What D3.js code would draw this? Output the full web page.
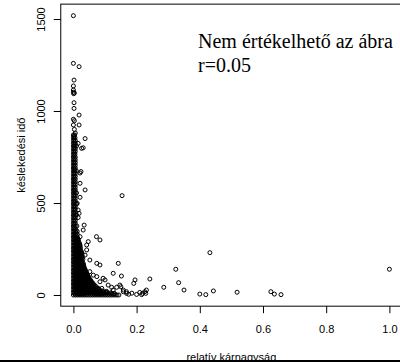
<!DOCTYPE html>
<html><head><meta charset="utf-8">
<script src="https://cdn.jsdelivr.net/npm/d3@7"></script>
<style>body{margin:0;background:#fff}svg{display:block}</style>
</head><body>
<script>
// tick values
const xTicks = [0, 0.2, 0.4, 0.6, 0.8, 1.0];
const yTicks = [0, 500, 1000, 1500];
const xLabel = "relatív kárnagyság";
const yLabel = "késlekedési idő";
const noteLines = ["Nem értékelhető az ábra", "r=0.05"];

// dense overplotted region: [delay, relative damage in thousandths...]
const denseRows = [
 [870,0,4],[855,0,5],[840,0,6],[825,0,6],[810,0,5,10],[795,0,6],[780,0,6],[765,0,5],[750,0,6],
 [735,0,6],[720,0,6],[705,0,6],[690,0,6],[675,0,5,9],[660,0,6],[645,0,6],[630,0,6],
 [615,0,6],[600,0,6],[585,0,6],[570,0,6],[555,0,6,10],[540,0,6],[525,0,6],[510,0,6],
 [495,0,6,10],[480,0,6],[465,0,6],[450,0,6],[435,0,6,10],[420,0,6],[405,0,6],[390,0,6],
 [375,0,6,11],[360,0,6],[345,0,6,12],[330,0,6,12],[315,0,6,12],[300,0,6,12,16],
 [285,0,6,12,18],[270,0,6,12,18,21],[255,0,6,12,18,22],[240,0,6,12,18,24],
 [225,0,6,12,18,24,27],[210,0,6,12,18,24,28],[195,0,6,12,18,24,30],[180,0,6,12,18,24,28],
 [165,0,6,12,18,24,30,32],[150,0,6,12,18,24,30,34],[135,0,6,12,18,24,30,36,38],
 [120,0,6,12,18,24,30,36,42],[105,0,6,12,18,24,30,36,42,46],
 [90,0,6,12,18,24,30,36,42,48,50],[75,0,6,12,18,24,30,36,42,48,54,56],
 [60,0,6,12,18,24,30,36,42,48,54,60,63],[45,0,6,12,18,24,30,36,42,48,54,60,66,72],
 [30,0,6,12,18,24,30,36,42,48,54,60,66,72,78,82],
 [15,0,6,12,18,24,30,36,42,48,54,60,66,72,78,84,90,96,102,104],
 [0,0,6,12,18,24,30,36,42,48,54,60,66,72,78,84,90,96,102,108,114,120,126,132,138,144],
 [862,2],[847,3],[832,3],[817,3],[802,3],[787,3],[772,3],[757,3],[742,3],[727,3],[712,3],
 [697,3],[682,3],[667,3],[652,3],[637,3],[622,3],[607,3],[592,3],[577,3],[562,3],[547,3],
 [532,3],[517,3],[502,3],[487,3],[472,3],[457,3],[442,3],[427,3],[412,3],[397,3],[382,3],[367,3],
 [352,3,9],[337,3,9],[322,3,9],[307,3,9,14],[292,3,9,15],[277,3,9,15,20],[262,3,9,15,21],
 [247,3,9,15,21],[232,3,9,15,21,26],[217,3,9,15,21,27],[202,3,9,15,21,27],[187,3,9,15,21,27],
 [172,3,9,15,21,27,31],[157,3,9,15,21,27,33],[142,3,9,15,21,27,33,36],[127,3,9,15,21,27,33,39],
 [112,3,9,15,21,27,33,39,44],[97,3,9,15,21,27,33,39,45,48],[82,3,9,15,21,27,33,39,45,51,54],
 [67,3,9,15,21,27,33,39,45,51,57,60],[52,3,9,15,21,27,33,39,45,51,57,63,68],
 [37,3,9,15,21,27,33,39,45,51,57,63,69,75,78],
 [22,3,9,15,21,27,33,39,45,51,57,63,69,75,81,87,93],
 [7,3,9,15,21,27,33,39,45,51,57,63,69,75,81,87,93,99,105,111,117,123,129]
];

// scattered points: [relative damage, delay]
const outliers = [
 [0,1518],[0,1259],[0.018,1241],[0.002,1168],[0,1136],[0,1114],[0,1102],[0.003,1098],[0.001,1094],
 [0.002,1045],[0.002,1014],[0.018,978],[0,955],[0.003,947],[0.018,924],[0,924],[0.003,900],[0.006,880],
 [0.037,850],[0.015,824],[0.026,797],[0.031,800],[0.024,671],[0.021,663],[0.021,607],[0.037,571],
 [0.021,531],[0.012,498],[0.015,462],[0.018,444],[0.015,421],[0.034,380],[0.031,353],[0.021,317],
 [0.047,290],[0.073,317],[0.084,299],[0.042,272],[0.042,245],[0.037,217],[0.052,190],[0.154,540],
 [0.074,172],[0.084,163],[0.142,172],[0.126,118],[0.152,103],[0.195,82],[0.191,63],[0.074,100],
 [0.094,91],[0.084,72],[0.1,82],[0.137,42],[0.147,54],[0.158,27],[0.168,18],[0.126,27],[0.150,45],
 [0.158,18],[0.168,9],[0.052,127],[0.063,108],[0.11,54],[0.121,42],[0.09,36],[0.105,20],[0.118,12],
 [0.13,8],[0.175,4],[0.185,10],[0.2,3],[0.21,14],
 [0.242,87],[0.219,9],[0.226,18],[0.231,27],[0.229,9],[0.216,2],[0.286,42],[0.324,140],[0.333,67],
 [0.350,27],[0.400,5],[0.419,2],[0.432,230],[0.443,22],[0.518,15],[0.625,18],[0.636,5],[0.657,2],
 [1.0,140]
];

const W = 400, H = 362;
const svg = d3.select("body").append("svg").attr("width", W).attr("height", H)
  .style("font-family", "'Liberation Sans', Arial, sans-serif");
svg.append("rect").attr("width", W).attr("height", H).attr("fill", "#fff");

const x = d3.scaleLinear().domain([0, 1]).range([73.4, 389.4]);
const y = d3.scaleLinear().domain([0, 1500]).range([295, 19]);
const xMin = -0.04, xMax = 1.04, yMin = -60.8, yMax = 1580.8;

const pts = [];
denseRows.forEach(r => { for (let i = 1; i < r.length; i++) pts.push([r[i] / 1000, r[0]]); });
outliers.forEach(p => pts.push(p));

svg.append("g").selectAll("circle").data(pts).join("circle")
  .attr("cx", d => x(d[0])).attr("cy", d => y(d[1])).attr("r", 2)
  .attr("fill", "none").attr("stroke", "#000").attr("stroke-width", 1);

// box
svg.append("rect")
  .attr("x", x(xMin)).attr("y", y(yMax))
  .attr("width", x(xMax) - x(xMin)).attr("height", y(yMin) - y(yMax))
  .attr("fill", "none").attr("stroke", "#000").attr("stroke-width", 1);

// axes
const xAxis = svg.append("g").attr("transform", `translate(0,${y(yMin)})`)
  .call(d3.axisBottom(x).tickValues(xTicks).tickSize(7).tickPadding(12).tickFormat(d3.format(".1f")));
xAxis.select(".domain").remove();
xAxis.selectAll("text").attr("font-size", 11).attr("fill", "#000")
  .attr("font-family", "'Liberation Sans', Arial, sans-serif");

const yAxis = svg.append("g").attr("transform", `translate(${x(xMin)},0)`)
  .call(d3.axisLeft(y).tickValues(yTicks).tickSize(7).tickFormat(d3.format("d")));
yAxis.select(".domain").remove();
yAxis.selectAll("text").attr("font-size", 11).attr("fill", "#000")
  .attr("font-family", "'Liberation Sans', Arial, sans-serif")
  .attr("text-anchor", "middle").attr("x", null).attr("dy", null)
  .attr("transform", `translate(-15.5,0) rotate(-90)`)
  .attr("y", 0);

// axis labels
svg.append("text").attr("x", (x(xMin) + x(xMax)) / 2).attr("y", 361)
  .attr("text-anchor", "middle").attr("font-size", 11).text(xLabel);
svg.append("text").attr("transform", `translate(25,${(y(yMin) + y(yMax)) / 2}) rotate(-90)`)
  .attr("text-anchor", "middle").attr("font-size", 11).text(yLabel);

// note
svg.append("g").selectAll("text").data(noteLines).join("text")
  .attr("x", 198).attr("y", (d, i) => 48 + i * 24)
  .attr("font-family", "'Liberation Serif', 'Times New Roman', serif").attr("font-size", 20)
  .text(d => d);

// bottom black band
svg.append("rect").attr("x", 0).attr("y", 360).attr("width", W).attr("height", 2).attr("fill", "#000");
</script>
</body></html>
